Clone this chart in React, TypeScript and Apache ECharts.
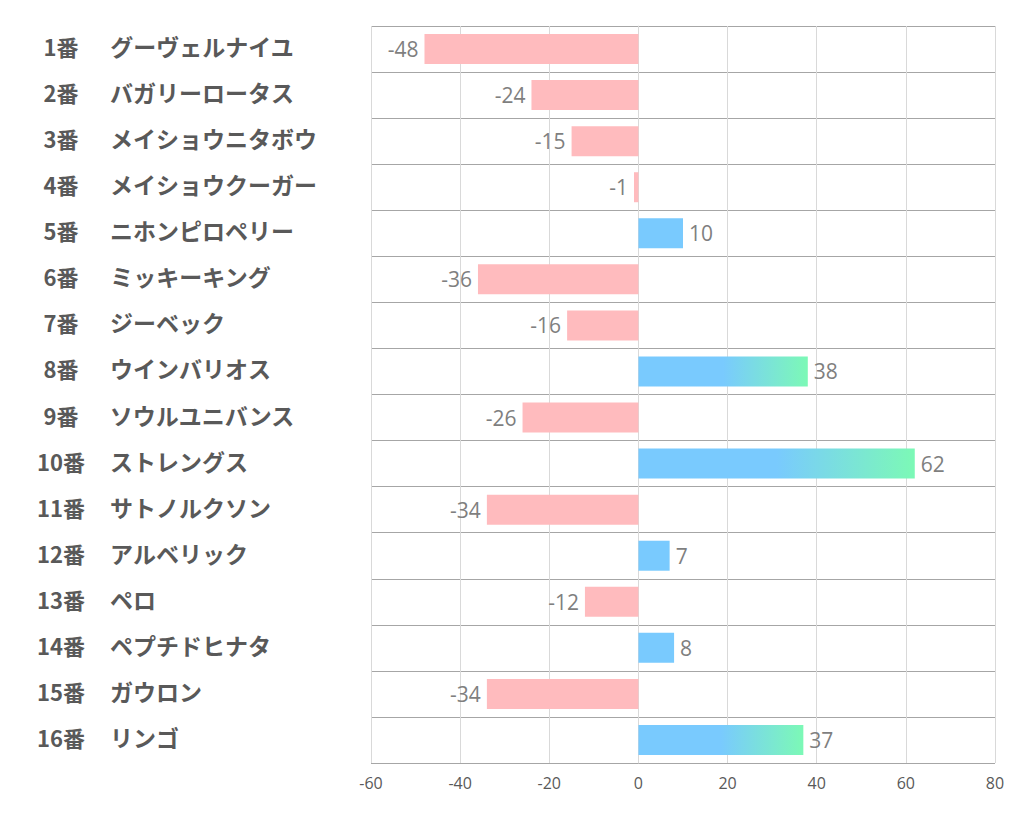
import React, { useEffect, useRef } from "react";
import * as echarts from "echarts";

const horseNumbers = ["1", "2", "3", "4", "5", "6", "7", "8", "9", "10", "11", "12", "13", "14", "15", "16"];
const horseNames = [
  "グーヴェルナイユ",
  "バガリーロータス",
  "メイショウニタボウ",
  "メイショウクーガー",
  "ニホンピロペリー",
  "ミッキーキング",
  "ジーベック",
  "ウインバリオス",
  "ソウルユニバンス",
  "ストレングス",
  "サトノルクソン",
  "アルベリック",
  "ペロ",
  "ペプチドヒナタ",
  "ガウロン",
  "リンゴ",
];
const values = [-48, -24, -15, -1, 10, -36, -16, 38, -26, 62, -34, 7, -12, 8, -34, 37];
const xTicks = { min: -60, max: 80, interval: 20 };

const PINK = "#FFBBBE";
const BLUE = "#79CAFE";
const GREEN = "#7CF9B6";

export default function App() {
  const ref = useRef<HTMLDivElement>(null);
  useEffect(() => {
    if (!ref.current) return;
    const chart = echarts.init(ref.current, undefined, { renderer: "svg" });
    const categories = horseNumbers.map((n, i) => `${n}|${horseNames[i]}`);
    const data = values.map((v) => {
      let color: any = PINK;
      if (v > 0) {
        color =
          v >= 30
            ? new echarts.graphic.LinearGradient(0, 0, 1, 0, [
                { offset: 0, color: BLUE },
                { offset: 0.5, color: BLUE },
                { offset: 1, color: GREEN },
              ])
            : BLUE;
      }
      return {
        value: v,
        itemStyle: { color },
        label: { position: v < 0 ? "left" : "right" },
      };
    });
    chart.setOption({
      animation: false,
      backgroundColor: "#ffffff",
      grid: { left: 371, right: 27, top: 26, bottom: 71, containLabel: false },
      xAxis: {
        type: "value",
        min: xTicks.min,
        max: xTicks.max,
        interval: xTicks.interval,
        axisLine: { show: false },
        axisTick: { show: false },
        axisLabel: {
          color: "#595959",
          fontSize: 16,
          fontFamily: "Open Sans, Noto Sans, sans-serif",
          margin: 12,
        },
        splitLine: { show: true, lineStyle: { color: "#d9d9d9", width: 1 } },
      },
      yAxis: {
        type: "category",
        inverse: true,
        data: categories,
        axisLine: { show: true, lineStyle: { color: "#d9d9d9" } },
        axisTick: { show: false },
        splitLine: { show: true, lineStyle: { color: "#a6a6a6", width: 1 } },
        axisLabel: {
          align: "left",
          margin: 334,
          padding: [0, 0, 6, 0],
          formatter: (val: string) => {
            const [n, name] = val.split("|");
            return `{n|${n}番}{s|${name}}`;
          },
          rich: {
            n: {
              width: 48,
              align: "right",
              fontSize: 22,
              fontWeight: "bold",
              color: "#595959",
              fontFamily: "Noto Sans CJK JP, sans-serif",
            },
            s: {
              padding: [0, 0, 0, 25],
              fontSize: 23,
              fontWeight: "bold",
              color: "#595959",
              fontFamily: "Noto Sans CJK JP, sans-serif",
            },
          },
        },
      },
      series: [
        {
          type: "bar",
          data,
          barWidth: 30,
          label: {
            show: true,
            distance: 6,
            color: "#7f7f7f",
            fontSize: 21,
            fontFamily: "Open Sans, Noto Sans, sans-serif",
            padding: [4, 0, 0, 0],
          },
        },
      ],
    });
    return () => chart.dispose();
  }, []);
  return (
    <div
      ref={ref}
      style={{ position: "absolute", left: 0, top: 0, width: 1022, height: 834 }}
    />
  );
}
